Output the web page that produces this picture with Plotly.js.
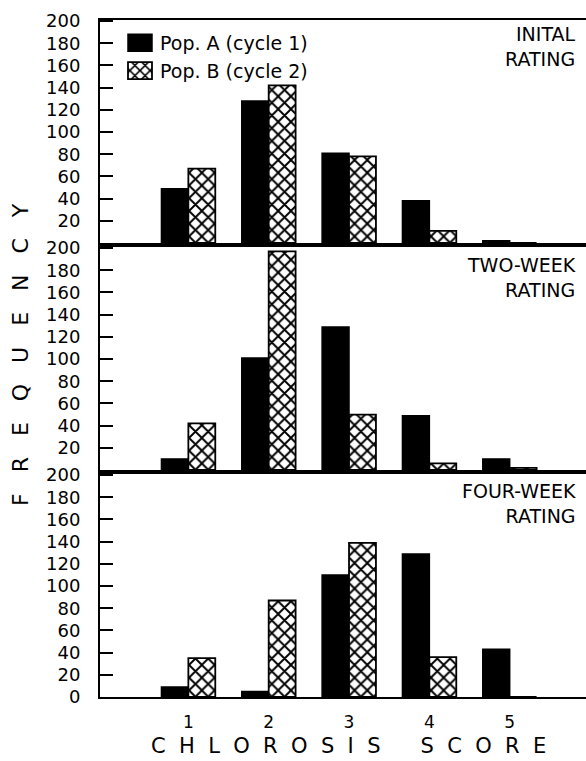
<!DOCTYPE html>
<html>
<head>
<meta charset="utf-8">
<script src="https://cdn.plot.ly/plotly-3.0.1.min.js"></script>
<style>html,body{margin:0;padding:0;background:#fff;}</style>
</head>
<body>
<div id="chart" style="width:586px;height:761px;"></div>
<script>
// ---- data ----
const scores = [1, 2, 3, 4, 5];
const xTickLabels = ['1', '2', '3', '4', '5'];
const initialA = [49, 128, 81, 38, 2];
const initialB = [67, 142, 78, 11, 0];
const twoWeekA = [10, 101, 129, 49, 10];
const twoWeekB = [42, 197, 50, 6, 2];
const fourWeekA = [9, 5, 110, 129, 43];
const fourWeekB = [35, 87, 139, 36, 0];
const seriesNames = ['Pop. A (cycle 1)', 'Pop. B (cycle 2)'];
const panelLabels = ['INITAL<br>RATING', 'TWO-WEEK<br>RATING', 'FOUR-WEEK<br>RATING'];
const yTicksUpper = [20, 40, 60, 80, 100, 120, 140, 160, 180, 200];
const yTicksLower = [0, 20, 40, 60, 80, 100, 120, 140, 160, 180, 200];
const yTitle = 'FREQUENCY';
const xTitle = ['CHLOROSIS', 'SCORE'];

// ---- styles ----
const solidMarker = {color: '#000', line: {color: '#000', width: 1.5}};
const hatchMarker = {
  color: '#fff',
  line: {color: '#000', width: 1.8},
  pattern: {shape: 'x', fgcolor: '#000', bgcolor: '#fff', size: 9, solidity: 0.38}
};

function pair(a, b, xa, ya, legend) {
  return [
    {type: 'bar', x: scores, y: a, xaxis: xa, yaxis: ya, name: seriesNames[0],
     marker: solidMarker, showlegend: legend, legendgroup: 'A', hoverinfo: 'skip'},
    {type: 'bar', x: scores, y: b, xaxis: xa, yaxis: ya, name: seriesNames[1],
     marker: hatchMarker, showlegend: legend, legendgroup: 'B', hoverinfo: 'skip'}
  ];
}

const data = [].concat(
  pair(initialA, initialB, 'x', 'y', true),
  pair(twoWeekA, twoWeekB, 'x2', 'y2', false),
  pair(fourWeekA, fourWeekB, 'x3', 'y3', false)
);

const FONT = 'DejaVu Sans, Arial, sans-serif';
const plotH = 677, topM = 20;
function py(pix) { return 1 - (pix - topM) / plotH; }
function px(pix) { return (pix - 100) / 486; }

function xAxis(anchor, labels) {
  const ax = {
    anchor: anchor, domain: [0, 1], range: [-0.1, 5.95],
    tickvals: scores, ticktext: xTickLabels, showticklabels: labels,
    ticks: '', showgrid: false, zeroline: false,
    showline: true, mirror: true, linecolor: '#000', linewidth: 2,
    tickfont: {family: FONT, size: 17, color: '#000'}, ticklabelstandoff: 9
  };
  if (anchor !== 'y') ax.matches = 'x';
  return ax;
}
function yAxis(anchor, domain, tickvals) {
  return {
    anchor: anchor, domain: domain, range: [0, 201],
    tickvals: tickvals, ticks: 'inside', ticklen: 13, tickwidth: 2, tickcolor: '#000',
    showgrid: false, zeroline: false,
    showline: true, mirror: true, linecolor: '#000', linewidth: 2,
    tickfont: {family: FONT, size: 18, color: '#000'}, ticklabelstandoff: 14
  };
}

const nb = '\u00a0';
const yTitleText = yTitle.split('').join(nb + nb + nb);
const xTitleText = xTitle.map(w => w.split('').join(nb + nb)).join(nb.repeat(6));

const labelFont = {family: FONT, size: 19, color: '#000'};
const annotations = [
  {xref: 'paper', yref: 'paper', x: px(578), y: py(21), xanchor: 'right', yanchor: 'top', align: 'right',
   text: panelLabels[0], showarrow: false, font: labelFont},
  {xref: 'paper', yref: 'paper', x: px(578), y: py(252), xanchor: 'right', yanchor: 'top', align: 'right',
   text: panelLabels[1], showarrow: false, font: labelFont},
  {xref: 'paper', yref: 'paper', x: px(578), y: py(478), xanchor: 'right', yanchor: 'top', align: 'right',
   text: panelLabels[2], showarrow: false, font: labelFont},
  {xref: 'paper', yref: 'paper', x: px(20), y: py(355), xanchor: 'center', yanchor: 'middle',
   textangle: -90, text: yTitleText, showarrow: false, font: {family: FONT, size: 22, color: '#000'}},
  {xref: 'paper', yref: 'paper', x: px(348), y: py(746), xanchor: 'center', yanchor: 'middle',
   text: xTitleText, showarrow: false, font: {family: FONT, size: 21, color: '#000'}}
];

const layout = {
  width: 586, height: 761,
  margin: {l: 100, r: 0, t: topM, b: 64, pad: 0},
  paper_bgcolor: '#fff', plot_bgcolor: '#fff',
  barmode: 'group', bargap: 0.33, bargroupgap: 0,
  font: {family: FONT, color: '#000'},
  showlegend: true,
  legend: {x: px(120), xanchor: 'left', y: py(24), yanchor: 'top',
           font: {family: FONT, size: 19, color: '#000'}, bgcolor: 'rgba(0,0,0,0)',
           traceorder: 'normal', itemclick: false},
  xaxis: xAxis('y', false),
  xaxis2: xAxis('y2', false),
  xaxis3: xAxis('y3', true),
  yaxis: yAxis('x', [454 / plotH, 1], yTicksUpper),
  yaxis2: yAxis('x2', [227 / plotH, 450 / plotH], yTicksUpper),
  yaxis3: yAxis('x3', [0, 223 / plotH], yTicksLower),
  annotations: annotations
};

Plotly.newPlot('chart', data, layout, {staticPlot: true, displayModeBar: false}).then(function () {
  // enlarge legend swatches to the wider rectangles of the original
  document.querySelectorAll('.legend .legendpoints path').forEach(function (p) {
    p.setAttribute('d', 'M12,8.5H-12V-8.5H12Z');
  });
});
</script>
</body>
</html>
